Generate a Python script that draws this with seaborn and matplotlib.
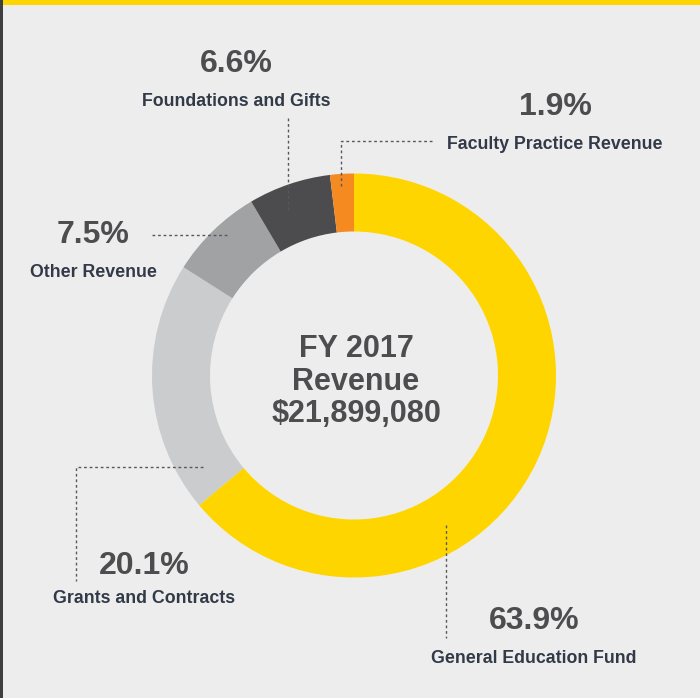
import matplotlib
matplotlib.use("Agg")
import matplotlib.pyplot as plt
import matplotlib.patches as mpatches
import seaborn as sns

# revenue shares, clockwise from 12 o'clock
categories = [
    "General Education Fund",
    "Grants and Contracts",
    "Other Revenue",
    "Foundations and Gifts",
    "Faculty Practice Revenue",
]
shares = [63.9, 20.1, 7.5, 6.6, 1.9]
slice_colors = ["#FFD500", "#CBCCCE", "#A1A2A4", "#4C4C4E", "#F48A20"]

center_title = ["FY 2017", "Revenue", "$21,899,080"]

W, H = 700, 698
BG = "#EDEDED"
PCT_COLOR = "#4D4D4F"
LABEL_COLOR = "#323A48"
LINE_COLOR = "#55595F"

sns.set_theme(style="white")
plt.rcParams["font.family"] = ["Liberation Sans", "DejaVu Sans"]


def Y(y):
    # pixel row (from top) -> data y
    return H - y


# label layout in pixels: (x center, pct baseline, label baseline)
label_pos = {
    "General Education Fund": (534, 629, 663),
    "Grants and Contracts": (144, 574, 603),
    "Other Revenue": (93, 243, 277),
    "Foundations and Gifts": (236, 72, 106),
    "Faculty Practice Revenue": (555, 115, 149),
}
# leader lines in pixels
leaders = {
    "General Education Fund": [(446, 525), (446, 638)],
    "Grants and Contracts": [(203, 467), (76, 467), (76, 581)],
    "Other Revenue": [(152, 235), (228, 235)],
    "Foundations and Gifts": [(288, 118), (288, 210)],
    "Faculty Practice Revenue": [(432, 141), (341, 141), (341, 188)],
}

fig = plt.figure(figsize=(W / 100, H / 100), dpi=100, facecolor=BG)
ax = fig.add_axes([0, 0, 1, 1])
ax.set_facecolor(BG)

cx, cy = 354, 375.5
r_out, ring = 202, 58
ax.pie(
    shares,
    colors=slice_colors,
    startangle=90,
    counterclock=False,
    center=(cx, Y(cy)),
    radius=r_out,
    wedgeprops=dict(width=ring, linewidth=0),
)

ax.set_xlim(0, W)
ax.set_ylim(0, H)
ax.set_aspect("auto")
ax.axis("off")

# frame decorations
ax.add_patch(mpatches.Rectangle((0, Y(5)), W, 5, color="#FFD500", lw=0, zorder=5))
ax.add_patch(mpatches.Rectangle((0, 0), 2.5, H, color="#3F3F3F", lw=0, zorder=6))

for cat, val in zip(categories, shares):
    x, yp, yl = label_pos[cat]
    ax.text(x, Y(yp), f"{val:.1f}%", ha="center", va="baseline",
            fontsize=23, fontweight="bold", color=PCT_COLOR)
    ax.text(x, Y(yl), cat, ha="center", va="baseline",
            fontsize=12.8, fontweight="bold", color=LABEL_COLOR)
    pts = leaders[cat]
    ax.plot([p[0] for p in pts], [Y(p[1]) for p in pts], color=LINE_COLOR,
            lw=1, linestyle=(0, (2, 2)), zorder=4)

for line, yb in zip(center_title, [357, 390, 422]):
    ax.text(cx + 2, Y(yb), line, ha="center", va="baseline",
            fontsize=22, fontweight="bold", color=PCT_COLOR)

fig.savefig("out.png", dpi=100, facecolor=BG)
